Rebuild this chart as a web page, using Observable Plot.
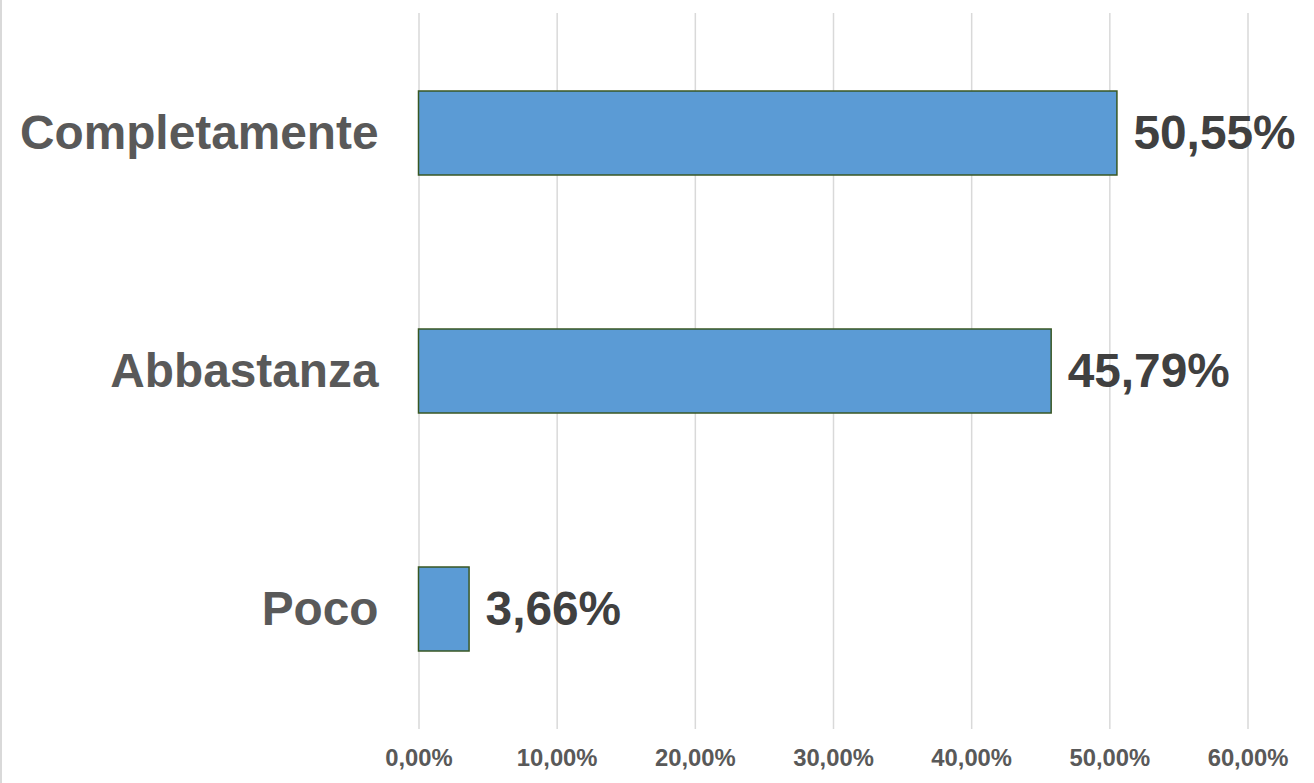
<!DOCTYPE html>
<html>
<head>
<meta charset="utf-8">
<script src="https://cdn.jsdelivr.net/npm/d3@7"></script>
<script src="https://cdn.jsdelivr.net/npm/@observablehq/plot@0.6"></script>
<style>
  html, body { margin: 0; padding: 0; background: #fff; }
  #wrap { position: relative; width: 1314px; height: 783px; }
  #edge { position: absolute; left: 0; top: 0; width: 1.5px; height: 783px; background: #d9d9d9; }
</style>
</head>
<body>
<div id="wrap"><div id="edge"></div></div>
<script>
const categories = ["Completamente", "Abbastanza", "Poco"];
const values = [50.55, 45.79, 3.66];
const xTicks = [0, 10, 20, 30, 40, 50, 60];

const fmt = v => v.toFixed(2).replace(".", ",") + "%";
const data = categories.map((c, i) => ({category: c, value: values[i]}));

const chart = Plot.plot({
  width: 1314,
  height: 783,
  marginLeft: 418.5,
  marginRight: 66.5,
  marginTop: 13,
  marginBottom: 54,
  style: {fontFamily: "'Liberation Sans', Arial, sans-serif", background: "transparent"},
  x: {domain: [0, 60], label: null},
  y: {domain: categories, paddingInner: 0.648, paddingOuter: 0.324, label: null},
  marks: [
    Plot.gridX(xTicks, {stroke: "#d9d9d9", strokeOpacity: 1, strokeWidth: 1.5}),
    Plot.barX(data, {x: "value", y: "category", fill: "#5b9bd5", stroke: "#385723", strokeWidth: 1.5}),
    Plot.text(data, {x: "value", y: "category", text: d => fmt(d.value), textAnchor: "start", dx: 16,
      fontSize: 47.8, fontWeight: "bold", fill: "#404040"}),
    Plot.axisX({ticks: xTicks, tickFormat: fmt, tickSize: 0, tickPadding: 20, fontSize: 23.8,
      fontWeight: "bold", color: "#595959", label: null}),
    Plot.axisY({tickSize: 0, tickPadding: 40.5, fontSize: 47.8, fontWeight: "bold", color: "#595959", label: null})
  ]
});
chart.style.position = "absolute";
chart.style.left = "0";
chart.style.top = "0";
document.getElementById("wrap").appendChild(chart);
</script>
</body>
</html>
